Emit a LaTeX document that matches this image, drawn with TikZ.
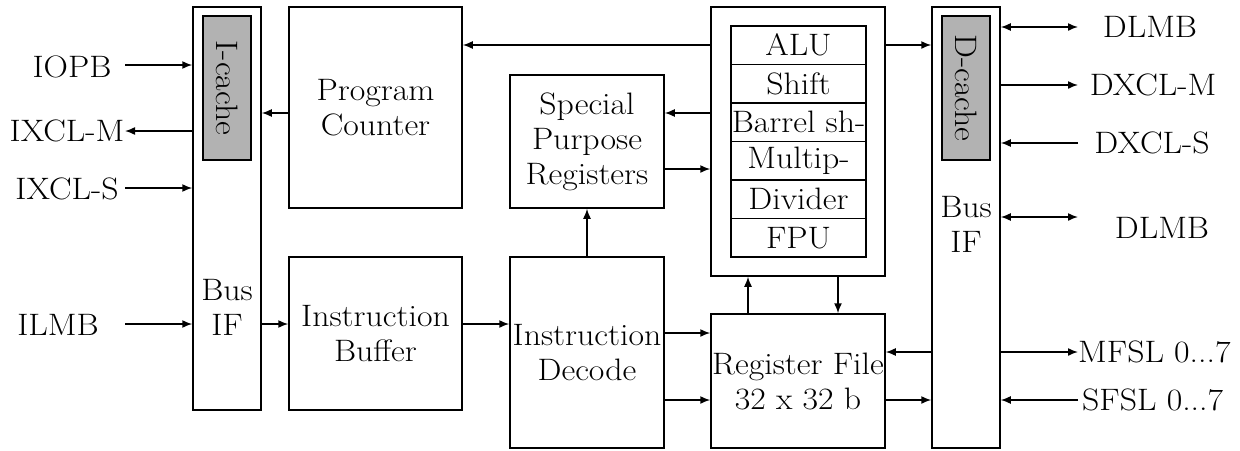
\documentclass[tikz,border=0pt]{standalone}
\usepackage{fontspec}
\setmainfont{Latin Modern Roman}[FakeStretch=1.09]
\usetikzlibrary{arrows.meta}
\begin{document}
\begin{tikzpicture}[x=1pt,y=-1pt,
  txt/.style={font=\fontsize{31}{35}\selectfont, inner sep=0pt, align=center},
  box/.style={draw, line width=1.5pt, inner sep=0pt, font=\fontsize{31}{35}\selectfont, align=center},
  cache/.style={box, fill=black!30},
  arr/.style={line width=1.5pt, -{Latex[length=10pt,width=8pt]}},
  darr/.style={line width=1.5pt, {Latex[length=10pt,width=8pt]}-{Latex[length=10pt,width=8pt]}}
]
\useasboundingbox (0,0) rectangle (1240,450);

% blocks
\node[box, minimum width=68pt, minimum height=403pt] (ibus) at (227,208.5) {};
\node[cache, minimum width=48pt, minimum height=144pt] (icache) at (227,88) {};
\node[txt, rotate=-90] (icachet) at (227,88) {I-cache};
\node[txt] (ibust) at (227,307) {Bus\\IF};

\node[box, minimum width=173pt, minimum height=201pt] (pc) at (375.5,107.5) {Program\\Counter};
\node[box, minimum width=173pt, minimum height=153pt] (ib) at (375.5,333.5) {Instruction\\Buffer};
\node[box, minimum width=154pt, minimum height=133pt] (spr) at (587,141.5) {Special\\Purpose\\Registers};
\node[box, minimum width=154pt, minimum height=191pt] (id) at (587,352.5) {Instruction\\Decode};

\node[box, minimum width=174pt, minimum height=269pt] (alu) at (798,141.5) {};
\foreach \t [count=\i] in {ALU,Shift,Barrel sh-,Multip-,Divider,FPU}{
  \node[box, minimum width=135pt, minimum height=38.5pt] (alu\i) at (798.5,{26+38.5*(\i-0.5)}) {\t};
}
\node[box, minimum width=174pt, minimum height=134pt] (rf) at (798,381) {Register File\\32 x 32 b};

\node[box, minimum width=68pt, minimum height=441pt] (dbus) at (966,227.5) {};
\node[cache, minimum width=48pt, minimum height=144pt] (dcache) at (966,88) {};
\node[txt, rotate=-90] (dcachet) at (966,88) {D-cache};
\node[txt] (dbust) at (966,224) {Bus\\IF};

% left labels
\node[txt] (iopb) at (72,67) {IOPB};
\node[txt] (ixclm) at (67,131) {IXCL-M};
\node[txt] (ixcls) at (67,189) {IXCL-S};
\node[txt] (ilmb) at (58,325) {ILMB};
\coordinate (ciopb) at (125,65);
\coordinate (cixclm) at (125,131);
\coordinate (cixcls) at (125,188);
\coordinate (cilmb) at (125,324);
\draw[arr] (ciopb) -- (ibus.west |- ciopb);
\draw[arr] (ibus.west |- cixclm) -- (cixclm);
\draw[arr] (cixcls) -- (ibus.west |- cixcls);
\draw[arr] (cilmb) -- (ibus.west |- cilmb);

% right labels
\node[txt] (dlmba) at (1150,27) {DLMB};
\node[txt] (dxclm) at (1153,85) {DXCL-M};
\node[txt] (dxcls) at (1152,143) {DXCL-S};
\node[txt] (dlmbb) at (1162,228) {DLMB};
\node[txt, anchor=west] (mfsl) at (1078,352) {MFSL 0...7};
\node[txt, anchor=west] (sfsl) at (1082,400) {SFSL 0...7};
\coordinate (cdlmba) at (1078,27);
\coordinate (cdxclm) at (1078,85);
\coordinate (cdxcls) at (1078,143);
\coordinate (cdlmbb) at (1078,217);
\coordinate (cmfsl) at (1078,352);
\coordinate (csfsl) at (1078,400);
\draw[darr] (dbus.east |- cdlmba) -- (cdlmba);
\draw[arr] (dbus.east |- cdxclm) -- (cdxclm);
\draw[arr] (cdxcls) -- (dbus.east |- cdxcls);
\draw[darr] (dbus.east |- cdlmbb) -- (cdlmbb);
\draw[arr] (dbus.east |- cmfsl) -- (cmfsl);
\draw[arr] (csfsl) -- (dbus.east |- csfsl);

% internal connectors
\draw[arr] (alu.west |- 0,45) -- (pc.east |- 0,45);
\draw[arr] (alu.east |- 0,45) -- (dbus.west |- 0,45);
\draw[arr] (pc.west |- 0,113) -- (ibus.east |- 0,113);
\draw[arr] (ibus.east |- 0,324) -- (ib.west |- 0,324);
\draw[arr] (ib.east |- 0,324) -- (id.west |- 0,324);
\draw[arr] (id.north) -- (spr.south);
\draw[arr] (alu.west |- 0,113) -- (spr.east |- 0,113);
\draw[arr] (spr.east |- 0,169) -- (alu.west |- 0,169);
\draw[arr] (id.east |- 0,333) -- (rf.west |- 0,333);
\draw[arr] (id.east |- 0,400) -- (rf.west |- 0,400);
\draw[arr] (rf.north -| 748,0) -- (alu.south -| 748,0);
\draw[arr] (alu.south -| 838,0) -- (rf.north -| 838,0);
\draw[arr] (dbus.west |- 0,352) -- (rf.east |- 0,352);
\draw[arr] (rf.east |- 0,400) -- (dbus.west |- 0,400);
\end{tikzpicture}
\end{document}
